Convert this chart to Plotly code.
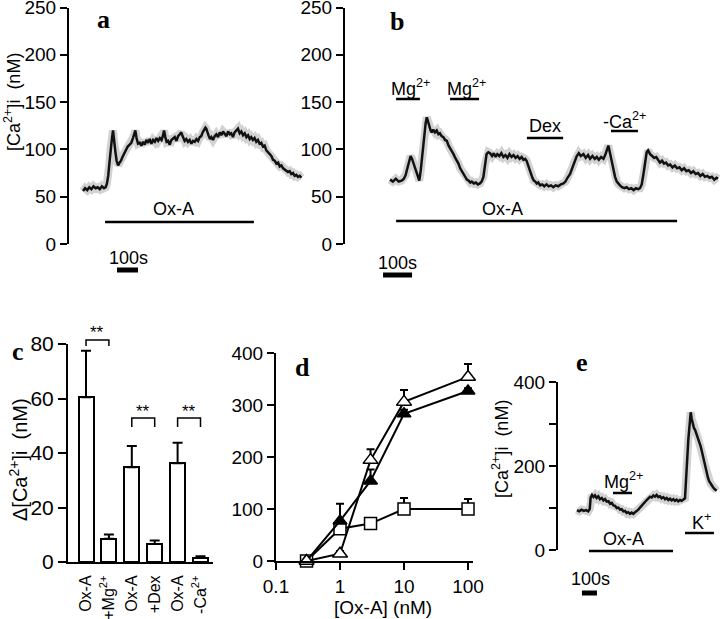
import plotly.graph_objects as go

W, H = 720, 619

# ---------------- data ----------------
# panel a : time (s) , [Ca2+]i (nM)
a_trace = [
(0,56),(10,59),(20,57),(30,60),(40,58),(50,61),(60,59),(70,60),(80,58),(90,61),(100,59),(108,60),
(114,64),(120,72),(126,86),(132,102),(138,112),(143,120),(148,108),(154,98),(160,88),(167,83),
(174,86),(181,88),(188,92),(196,96),(205,99),(213,103),(222,105),(230,107),(238,112),(244,116),
(249,120),(255,112),(262,106),(270,107),(278,104),(286,108),(294,105),(302,110),(310,107),(318,111),
(326,106),(334,110),(342,108),(350,112),(358,109),(366,112),(374,110),(380,114),(386,120),(392,113),
(398,108),(405,109),(413,105),(421,110),(429,112),(437,113),(445,109),(453,114),(461,116),(468,118),
(476,113),(484,109),(492,111),(500,108),(508,110),(516,106),(524,109),(532,108),(540,111),(548,109),
(556,113),(563,114),(570,118),(577,121),(583,123),(587,122),(593,117),(599,114),(605,111),(611,113),
(619,110),(627,114),(635,116),(643,113),(651,118),(659,115),(667,119),(675,117),(683,114),(691,119),
(699,116),(706,117),(714,113),(722,118),(730,120),(738,122),(746,117),(754,119),(762,115),(770,117),
(778,113),(786,115),(794,111),(801,113),(809,110),(817,112),(825,108),(833,110),(841,106),(849,107),
(857,103),(865,104),(873,99),(881,97),(889,94),(897,93),(905,89),(913,88),(921,85),(929,86),
(937,82),(945,83),(953,80),(960,79),(968,78),(976,76),(984,77),(992,74),(1000,75),(1008,72),
(1016,73),(1024,71),(1032,72),(1040,70)]

# panel b
b_trace = [
(0,68),(10,66),(20,69),(30,66),(40,67),(48,69),(54,73),(60,80),(66,88),(71,93),(76,90),(81,85),
(86,80),(92,74),(97,69),(101,67),(106,78),(111,95),(116,112),(120,124),(123,128),(127,134),(130,131),
(135,124),(140,120),(144,118),(149,121),(155,118),(161,120),(167,116),(172,117),(178,114),(184,113),
(190,110),(196,109),(202,104),(208,101),(213,99),(219,95),(225,91),(231,88),(236,85),(242,80),
(248,77),(254,73),(259,71),(265,68),(271,67),(277,65),(282,66),(289,64),(296,65),(303,63),(310,64),
(316,66),(322,71),(327,84),(333,95),(339,97),(345,96),(352,93),(358,96),(364,92),(370,95),(377,93),
(384,96),(391,92),(398,94),(405,91),(412,95),(419,92),(426,94),(433,91),(440,93),(447,90),(454,92),
(460,89),(466,90),(471,88),(476,83),(481,78),(486,74),(491,70),(496,67),(501,66),(506,64),(511,65),
(518,62),(525,63),(532,61),(540,63),(547,61),(555,62),(563,60),(571,62),(580,61),(589,63),(598,64),
(605,66),(612,70),(621,74),(628,80),(636,87),(644,93),(651,96),(658,93),(667,95),(675,91),(683,94),
(690,90),(698,93),(706,90),(713,92),(720,89),(728,92),(736,90),(742,94),(748,99),(753,104),(758,97),
(764,88),(770,79),(776,71),(782,66),(788,63),(793,62),(800,60),(808,59),(816,60),(824,58),(832,59),
(840,57),(848,59),(856,58),(862,59),(868,63),(874,74),(880,88),(885,97),(890,99),(897,95),(904,93),
(911,91),(918,92),(925,88),(931,86),(938,88),(945,85),(952,86),(959,83),(966,84),(974,81),(982,83),
(990,80),(998,81),(1006,78),(1014,80),(1022,77),(1030,78),(1038,75),(1046,77),(1054,74),(1062,75),
(1070,72),(1078,74),(1086,71),(1094,72),(1102,70),(1110,71),(1118,68),(1126,70),(1131,69)]

# panel e
e_trace = [
(0,95),(15,92),(30,96),(45,93),(60,95),(75,92),(85,98),(91,125),(100,131),(110,126),(120,130),
(131,124),(142,128),(153,121),(165,124),(176,118),(187,121),(198,115),(210,116),(221,110),(232,112),
(243,106),(254,105),(265,100),(276,101),(287,96),(298,97),(309,92),(320,93),(331,88),(342,90),
(353,86),(364,89),(376,86),(387,90),(398,92),(409,96),(420,101),(431,106),(442,110),(453,114),
(465,119),(476,123),(487,127),(498,125),(509,130),(520,127),(531,131),(542,126),(553,128),(564,123),
(576,126),(587,121),(598,124),(609,119),(620,122),(631,118),(642,121),(653,117),(664,120),(675,116),
(687,119),(698,117),(709,121),(720,123),(742,262),(752,318),(758,328),(765,312),(772,300),(780,290),
(787,286),(795,278),(802,272),(810,264),(818,258),(825,246),(833,234),(840,222),(848,208),(856,194),
(865,183),(873,172),(881,164),(890,158),(898,155),(906,150),(914,146),(922,144),(931,141)]

# treatment periods (s)
a_periods = [("Ox-A", 105, 814)]
b_periods = [("Mg<sup>2+</sup>", 21, 103), ("Mg<sup>2+</sup>", 207, 307), ("Dex", 472, 597),
             ("-Ca<sup>2+</sup>", 762, 855), ("Ox-A", 21, 990)]
e_periods = [("Mg<sup>2+</sup>", 240, 367), ("Ox-A", 80, 640), ("K<sup>+</sup>", 720, 913)]
a_scale = (162, 262)
b_scale = (-24, 76)
e_scale = (33, 133)

# panel c
c_labels = ["Ox-A", "+Mg<sup>2+</sup>", "Ox-A", "+Dex", "Ox-A", "-Ca<sup>2+</sup>"]
c_values = [60.5, 8.5, 34.8, 6.6, 36.2, 1.5]
c_errors = [17.0, 1.6, 7.8, 1.3, 7.6, 0.6]
c_pairs = [(0, 1), (2, 3), (4, 5)]

# panel d
d_conc = [0.3, 1, 3, 10, 100]
d_filled = [0, 77, 154, 283, 327]
d_filled_err = [0, 33, 22, 8, 5]
d_open = [0, 14, 194, 306, 354]
d_open_err = [0, 5, 21, 23, 25]
d_square = [0, 62, 72, 100, 100]
d_square_err = [0, 3, 3, 21, 19]

# ---------------- helpers ----------------
def PX(x):
    return x / W

def PY(y):
    return 1 - y / H

FONT = "Liberation Sans, Arial, sans-serif"
SERIF = "Liberation Serif, Times New Roman, serif"

fig = go.Figure()

def add_trace_pair(data, xa, ya):
    t = [p[0] for p in data]
    v = [p[1] for p in data]
    fig.add_trace(go.Scatter(x=t, y=v, mode="lines", xaxis=xa, yaxis=ya,
                             line=dict(color="#d2d2d2", width=8), hoverinfo="skip",
                             showlegend=False))
    fig.add_trace(go.Scatter(x=t, y=v, mode="lines", xaxis=xa, yaxis=ya,
                             line=dict(color="#111111", width=2.5), showlegend=False))

add_trace_pair(a_trace, "x", "y")
add_trace_pair(b_trace, "x2", "y2")
add_trace_pair(e_trace, "x5", "y5")

# panel c bars
fig.add_trace(go.Bar(x=list(range(len(c_values))), y=c_values, width=0.655,
                     xaxis="x3", yaxis="y3", showlegend=False,
                     marker=dict(color="white", line=dict(color="black", width=2)),
                     error_y=dict(type="data", array=c_errors, arrayminus=[0] * len(c_errors),
                                  symmetric=False, color="black", thickness=2, width=5)))

# panel d
def d_series(vals, errs, symbol, fill, size):
    fig.add_trace(go.Scatter(x=d_conc, y=vals, mode="lines+markers", xaxis="x4", yaxis="y4",
                             cliponaxis=False, showlegend=False,
                             line=dict(color="black", width=2),
                             marker=dict(symbol=symbol, size=size, color=fill,
                                         line=dict(color="black", width=1.5)),
                             error_y=dict(type="data", array=errs, arrayminus=[0] * len(errs),
                                          symmetric=False, color="black", thickness=2, width=4)))

d_series(d_square, d_square_err, "square", "white", 12)
d_series(d_filled, d_filled_err, "triangle-up", "black", 12)
d_series(d_open, d_open_err, "triangle-up", "white", 13)

axis_common = dict(showgrid=False, zeroline=False, showline=True, linecolor="black", linewidth=2,
                   ticks="outside", ticklen=7, tickwidth=2, tickcolor="black", automargin=False,
                   ticklabeloverflow="allow",
                   tickfont=dict(family=FONT, size=19, color="black"))

layout = dict(
    width=W, height=H, margin=dict(l=0, r=0, t=0, b=0, autoexpand=False),
    paper_bgcolor="white", plot_bgcolor="white", showlegend=False,
    font=dict(family=FONT, color="black"),
    bargap=0,
    xaxis=dict(domain=[PX(69), PX(310)], range=[-66.7, 1081], visible=False, anchor="y",
               automargin=False),
    yaxis=dict(domain=[PY(244), PY(7.5)], range=[0, 250], tickvals=[0, 50, 100, 150, 200, 250],
               anchor="x", **axis_common),
    xaxis2=dict(domain=[PX(345), 1.0], range=[-155.2, 1137.9], visible=False, anchor="y2",
                automargin=False),
    yaxis2=dict(domain=[PY(244), PY(7.5)], range=[0, 250], tickvals=[0, 50, 100, 150, 200, 250],
                anchor="x2", **axis_common),
    xaxis3=dict(domain=[PX(68), PX(213)], range=[-0.786, 5.546], anchor="y3", automargin=False,
                showgrid=False, zeroline=False, showline=True, linecolor="black", linewidth=2,
                tickvals=list(range(6)), ticktext=c_labels, tickangle=-90, ticks="",
                ticklabeloverflow="allow",
                ticklabelstandoff=5, tickfont=dict(family=FONT, size=16, color="black")),
    yaxis3=dict(domain=[PY(562), PY(344)], range=[0, 80], tickvals=[0, 20, 40, 60, 80],
                anchor="x3", **{**axis_common, "tickfont": dict(family=FONT, size=21, color="black"),
                                 "ticklen": 8}),
    xaxis4=dict(domain=[PX(276), PX(473)], type="log", range=[-1, 2.078], anchor="y4",
                tickvals=[0.1, 1, 10, 100], ticktext=["0.1", "1", "10", "100"], **axis_common),
    yaxis4=dict(domain=[PY(561), PY(353)], range=[0, 400], tickvals=[0, 100, 200, 300, 400],
                anchor="x4", **axis_common),
    xaxis5=dict(domain=[PX(558), 1.0], range=[-126.7, 953.3], visible=False, anchor="y5",
                automargin=False),
    yaxis5=dict(domain=[PY(550), PY(382)], range=[0, 400], tickvals=[0, 100, 200, 300, 400],
                ticktext=["0", "", "200", "", "400"], anchor="x5", **axis_common),
)
fig.update_layout(**layout)

shapes = []
annots = []

def hbar(xref, t0, t1, ypx, width=2.5):
    shapes.append(dict(type="line", xref=xref, yref="paper", x0=t0, x1=t1, y0=PY(ypx), y1=PY(ypx),
                       line=dict(color="black", width=width)))

def text(s, x, y, size=18, family=FONT, xref="paper", angle=0):
    annots.append(dict(text=s, x=x if xref != "paper" else PX(x), y=PY(y), xref=xref, yref="paper",
                       showarrow=False, textangle=angle, xanchor="center", yanchor="middle",
                       font=dict(family=family, size=size, color="black")))

# panel a
lab, t0, t1 = a_periods[0]
hbar("x", t0, t1, 222)
text(lab, 173, 209)
hbar("x", a_scale[0], a_scale[1], 270, width=5)
text("100s", 128, 258)

# panel b
b_ypos = [(99, 87), (99, 87), (138, 126), (131, 120), (221, 209)]
b_textx = [410, 466, 545, 624, 502]
for (lab, t0, t1), (yb, yt), tx in zip(b_periods, b_ypos, b_textx):
    hbar("x2", t0, t1, yb)
    text(lab, tx, yt)
hbar("x2", b_scale[0], b_scale[1], 275, width=5)
text("100s", 397, 263)

# panel e
e_ypos = [(493, 480), (551, 539), (533, 521)]
e_textx = [623, 623, 701]
for (lab, t0, t1), (yb, yt), tx in zip(e_periods, e_ypos, e_textx):
    hbar("x5", t0, t1, yb)
    text(lab, tx, yt)
hbar("x5", e_scale[0], e_scale[1], 593, width=5)
text("100s", 590, 579)

# panel c significance brackets
br_y = [(340, 346, 333), (418, 427, 411), (418, 427, 411)]
for (i, j), (ytop, yleg, ytxt) in zip(c_pairs, br_y):
    shapes.append(dict(type="path", xref="x3", yref="paper",
                       path=f"M {i},{PY(yleg)} L {i},{PY(ytop)} L {j},{PY(ytop)} L {j},{PY(yleg)}",
                       line=dict(color="black", width=1.5)))
    annots.append(dict(text="**", x=(i + j) / 2, y=PY(ytxt), xref="x3", yref="paper",
                       showarrow=False, font=dict(family=FONT, size=17, color="black")))

# axis titles
text("[Ca<sup>2+</sup>]i\u00a0\u00a0(nM)", 13, 102, size=18, angle=-90)
text("\u0394[Ca<sup>2+</sup>]i\u00a0\u00a0(nM)", 19, 460, size=20, angle=-90)
text("[Ca<sup>2+</sup>]i\u00a0\u00a0(nM)", 500, 449, size=18, angle=-90)
text("[Ox-A] (nM)", 383, 607, size=19)

# panel letters
for s, x, y in [("a", 104, 20), ("b", 397, 22), ("c", 18, 351), ("d", 302, 367), ("e", 582, 362)]:
    text(f"<b>{s}</b>", x, y, size=26, family=SERIF)

fig.update_layout(shapes=shapes, annotations=annots)
fig.write_html("out.html", config={"displayModeBar": False},
               post_script="document.body.style.margin='0';document.body.style.overflow='hidden';")
